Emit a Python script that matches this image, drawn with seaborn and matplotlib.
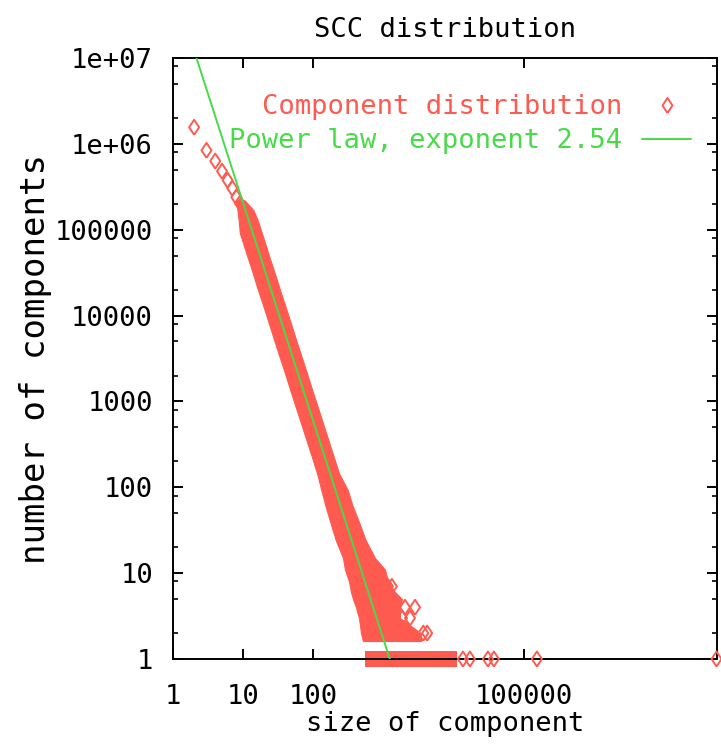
import matplotlib
matplotlib.use("Agg")
import matplotlib.pyplot as plt
import seaborn as sns
import pandas as pd
from matplotlib.lines import Line2D
from matplotlib.ticker import FixedLocator, FixedFormatter, NullLocator, NullFormatter

# ---------------- data ----------------
# isolated small components (size, number of components)
small_sizes = [2, 3, 4, 5, 6, 7, 8, 9]
small_counts = [1.56e6, 8.4e5, 6.3e5, 4.8e5, 3.77e5, 3.04e5, 2.39e5, 2.03e5]

# dense part of the distribution: for each count level, the smallest and
# largest component size covered by the (overlapping) points
band_counts = [2.2e5, 1.69e5, 1.29e5, 9.1e4, 7.0e4, 5.3e4, 3.66e4, 2.8e4, 2.14e4,
               1.51e4, 1.07e4, 7330, 5170, 3650, 2140, 1350, 859, 559, 355,
               225, 146, 93, 62, 39, 24, 15, 11, 8, 6, 5, 4, 3, 2, 1.62]
band_left = [7.9, 8.30, 8.63, 8.97, 9.98, 11.1, 12.9, 14.3, 15.8, 18.2, 20.9,
             24.2, 27.7, 31.8, 39.4, 47.0, 56.2, 66.7, 79.8, 95.5, 113, 130, 148,
             175, 210, 265, 283, 323, 345, 368, 406, 448, 479, 511]
band_right = [10.5, 14.0, 16.1, 18.5, 20.5, 22.8, 26.4, 29.4, 32.6, 37.4, 43.0,
              49.8, 57.0, 65.5, 80.9, 96.6, 116, 137, 164, 196, 232, 310, 360,
              450, 560, 758, 1052, 1161, 1462, 1838, 1722, 1722, 3428, 3428]

# sizes that occur exactly once (continuous run)
single_run = [546, 11190]

# scattered individual points in the tail
outlier_sizes = [2030, 2820, 1840, 2390, 3700, 4200, 1160, 1320,
                 13600, 17100, 30900, 37600, 154000, 5.6e7]
outlier_counts = [4, 4, 3, 3, 2, 2, 7, 7, 1, 1, 1, 1, 1, 1]

# fitted power law
pl_exponent = 2.54
pl_log_amplitude = 7.85
pl_x = [1.0, 5.6e7]

x_ticks = [1, 10, 100, 100000]
x_ticklabels = ["1", "10", "100", "100000"]
y_ticks = [1, 10, 100, 1000, 10000, 100000, 1e6, 1e7]
y_ticklabels = ["1", "10", "100", "1000", "10000", "100000", "1e+06", "1e+07"]

# ---------------- style ----------------
RED = "#ff5a50"
GREEN = "#48da48"
FS = 19.5

sns.set_style("ticks")
plt.rcParams["font.family"] = ["DejaVu Sans Mono", "DejaVu Sans"]
plt.rcParams["font.size"] = FS
plt.rcParams["text.color"] = "black"
plt.rcParams["axes.labelcolor"] = "black"
plt.rcParams["xtick.color"] = "black"
plt.rcParams["ytick.color"] = "black"

W, H = 721, 744
fig = plt.figure(figsize=(W / 100, H / 100), dpi=100)
L, R, T, B = 173, 716.5, 58, 659
ax = fig.add_axes([L / W, 1 - B / H, (R - L) / W, (B - T) / H])
ax.set_xscale("log")
ax.set_yscale("log")
ax.set_xlim(1, 5.6e7)
ax.set_ylim(1, 1e7)

diamond = [(0, -1.5), (1, 0), (0, 1.5), (-1, 0), (0, -1.5)]

# dense band of overlapping points
ax.fill_betweenx(band_counts, band_left, band_right, color=RED, lw=0.8,
                 edgecolor=RED, zorder=2)
ax.fill_between(single_run, [0.80, 0.80], [1.25, 1.25], color=RED, lw=0,
                clip_on=False, zorder=2)

pts = pd.DataFrame({
    "size": small_sizes + outlier_sizes,
    "count": small_counts + outlier_counts,
})
sns.scatterplot(data=pts, x="size", y="count", marker=diamond, s=117,
                ax=ax, legend=False, zorder=3, clip_on=False)
coll = ax.collections[-1]
coll.set_facecolor("none")
coll.set_edgecolor(RED)
coll.set_linewidth(1.4)

pl_df = pd.DataFrame({"x": pl_x,
                      "y": [10 ** pl_log_amplitude * v ** (-pl_exponent) for v in pl_x]})
sns.lineplot(data=pl_df, x="x", y="y", color=GREEN, lw=1.4, ax=ax, zorder=4)

ax.set_xlim(1, 5.6e7)
ax.set_ylim(1, 1e7)

# ticks
ax.xaxis.set_major_locator(FixedLocator(x_ticks))
ax.xaxis.set_major_formatter(FixedFormatter(x_ticklabels))
ax.xaxis.set_minor_locator(NullLocator())
ax.yaxis.set_major_locator(FixedLocator(y_ticks))
ax.yaxis.set_major_formatter(FixedFormatter(y_ticklabels))
ax.yaxis.set_minor_locator(FixedLocator([m * 10 ** k for k in range(7) for m in (2, 5, 8)]))
ax.yaxis.set_minor_formatter(NullFormatter())
ax.tick_params(which="both", direction="in", top=True, right=True, colors="black",
               labelsize=FS)
ax.tick_params(which="major", length=7.2, width=1.4)
ax.tick_params(which="minor", length=3.6, width=1.2)
ax.tick_params(axis="x", pad=18)
ax.tick_params(axis="y", pad=14.4)
for sp in ax.spines.values():
    sp.set_linewidth(1.4)
    sp.set_color("black")
    sp.set_visible(True)

ax.set_title("SCC distribution", fontsize=FS, pad=15, color="black")
ax.set_xlabel("size of component", fontsize=FS, labelpad=1, color="black")
ax.set_ylabel("number of components", fontsize=24.5, labelpad=2, color="black")

h1 = Line2D([], [], ls="none", marker=diamond, ms=10.8, mfc="none", mec=RED, mew=1.4)
h2 = Line2D([], [], color=GREEN, lw=1.4)
ax.legend([h1, h2], ["Component distribution", "Power law, exponent 2.54"],
          loc="upper right", bbox_to_anchor=(691 / W, 1 - 94 / H),
          bbox_transform=fig.transFigure, frameon=False, markerfirst=False,
          handlelength=1.8, handletextpad=0.74, labelspacing=0.3, borderpad=0,
          borderaxespad=0, labelcolor=[RED, GREEN], fontsize=FS)

fig.savefig("out.png", dpi=100)
